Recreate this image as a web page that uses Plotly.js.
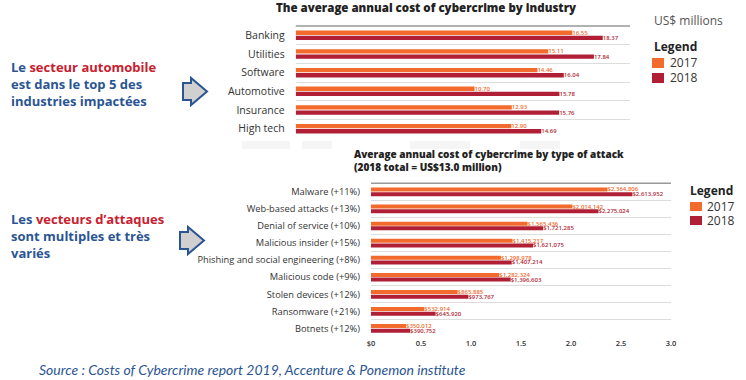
<!DOCTYPE html>
<html><head><meta charset="utf-8">
<script src="https://cdn.plot.ly/plotly-3.0.1.min.js"></script>
<style>html,body{margin:0;padding:0;background:#fff}#chart{width:746px;height:380px}</style>
</head><body><div id="chart"></div>
<script>
// ---- data ----
const industries = ['Banking', 'Utilities', 'Software', 'Automotive', 'Insurance', 'High tech'];
const industry2017 = [16.55, 15.11, 14.46, 10.70, 12.93, 12.90];
const industry2018 = [18.37, 17.84, 16.04, 15.78, 15.76, 14.69];

const attacks = ['Malware (+11%)', 'Web-based attacks (+13%)', 'Denial of service (+10%)',
  'Malicious insider (+15%)', 'Phishing and social engineering (+8%)', 'Malicious code (+9%)',
  'Stolen devices (+12%)', 'Ransomware (+21%)', 'Botnets (+12%)'];
const attack2017 = [2364806, 2014142, 1565436, 1415217, 1298978, 1282324, 865885, 532914, 350012];
const attack2018 = [2613952, 2275024, 1721285, 1621075, 1407214, 1396603, 973767, 645920, 390752];

const attackTickVals = [0, 0.5, 1, 1.5, 2, 2.5, 3];
const attackTickText = ['$0', '0.5', '1.0', '1.5', '2.0', '2.5', '3.0'];
const years = ['2017', '2018'];

// ---- style ----
const ORANGE = '#f26a2c', RED = '#b01f35';
const BLUE = '#2a5592', TXTRED = '#c8202f';
const W = 746, H = 380;
const px = x => x / W, py = y => 1 - y / H;
const FONT = 'Open Sans, sans-serif';

const fmtMoney = v => '$' + v.toLocaleString('en-US');
const toMillions = arr => arr.map(v => v / 1e6);

const barCommon = {type: 'bar', orientation: 'h', textposition: 'outside', constraintext: 'none',
  cliponaxis: false, hoverinfo: 'skip', showlegend: false};
const LBL = 6;

const data = [
  Object.assign({}, barCommon, {name: years[0], y: industries, x: industry2017, xaxis: 'x', yaxis: 'y',
    marker: {color: ORANGE}, text: industry2017.map(v => v.toFixed(2)),
    textfont: {size: LBL, color: ORANGE, family: FONT, weight: 600}}),
  Object.assign({}, barCommon, {name: years[1], y: industries, x: industry2018, xaxis: 'x', yaxis: 'y',
    marker: {color: RED}, text: industry2018.map(v => v.toFixed(2)),
    textfont: {size: LBL, color: RED, family: FONT, weight: 600}}),
  Object.assign({}, barCommon, {name: years[0], y: attacks, x: toMillions(attack2017), xaxis: 'x2', yaxis: 'y2',
    marker: {color: ORANGE}, text: attack2017.map(fmtMoney),
    textfont: {size: LBL, color: ORANGE, family: FONT, weight: 600}}),
  Object.assign({}, barCommon, {name: years[1], y: attacks, x: toMillions(attack2018), xaxis: 'x2', yaxis: 'y2',
    marker: {color: RED}, text: attack2018.map(fmtMoney),
    textfont: {size: LBL, color: RED, family: FONT, weight: 600}})
];

function arrowPath(dx, dy) {
  const pts = [[183,83],[191,83],[191,78],[207,91.5],[191,105],[191,100],[183,100]];
  return 'M' + pts.map(p => px(p[0] + dx) + ',' + py(p[1] + dy)).join(' L') + ' Z';
}

const WM = '#f5f5f5';
const shapes = [
  {type: 'line', xref: 'x domain', yref: 'y domain', x0: 0, x1: 1, y0: 1, y1: 1, line: {color: '#999', width: 1.5}},
  {type: 'line', xref: 'x2 domain', yref: 'y2 domain', x0: 0, x1: 1, y0: 1, y1: 1, line: {color: '#999', width: 1.5}},
  // faint watermark fragments under the top chart
  {type: 'rect', xref: 'paper', yref: 'paper', x0: px(242), x1: px(290), y0: py(141), y1: py(149), fillcolor: WM, line: {width: 0}, layer: 'below'},
  {type: 'rect', xref: 'paper', yref: 'paper', x0: px(302), x1: px(332), y0: py(141), y1: py(149), fillcolor: WM, line: {width: 0}, layer: 'below'},
  {type: 'rect', xref: 'paper', yref: 'paper', x0: px(410), x1: px(470), y0: py(141), y1: py(149), fillcolor: WM, line: {width: 0}, layer: 'below'},
  {type: 'rect', xref: 'paper', yref: 'paper', x0: px(520), x1: px(560), y0: py(141), y1: py(149), fillcolor: WM, line: {width: 0}, layer: 'below'},
  // legend swatches
  {type: 'rect', xref: 'paper', yref: 'paper', x0: px(652), x1: px(664), y0: py(58), y1: py(68), fillcolor: ORANGE, line: {width: 0}},
  {type: 'rect', xref: 'paper', yref: 'paper', x0: px(652), x1: px(664), y0: py(73), y1: py(83), fillcolor: RED, line: {width: 0}},
  {type: 'rect', xref: 'paper', yref: 'paper', x0: px(690), x1: px(702), y0: py(202), y1: py(211), fillcolor: ORANGE, line: {width: 0}},
  {type: 'rect', xref: 'paper', yref: 'paper', x0: px(690), x1: px(702), y0: py(216), y1: py(225), fillcolor: RED, line: {width: 0}},
  // arrows
  {type: 'path', xref: 'paper', yref: 'paper', path: arrowPath(0, 0), fillcolor: '#d0d0d0', line: {color: BLUE, width: 2}},
  {type: 'path', xref: 'paper', yref: 'paper', path: arrowPath(-3, 149), fillcolor: '#d0d0d0', line: {color: BLUE, width: 2}}
];

const ann = (x, y, text, opts) => Object.assign({xref: 'paper', yref: 'paper', x: px(x), y: py(y), text: text,
  showarrow: false, xanchor: 'left', yanchor: 'middle', align: 'left'}, opts || {});

const sideFont = {family: 'Open Sans, sans-serif', size: 13, color: BLUE, weight: 700};
const red = s => '<span style="color:' + TXTRED + '">' + s + '</span>';

const annotations = [
  ann(351.5, 154, 'Average annual cost of cybercrime by type of attack',
    {font: {family: FONT, size: 10, color: '#222', weight: 800}}),
  ann(351.5, 166.5, '(2018 total = US$13.0 million)',
    {font: {family: FONT, size: 10, color: '#222', weight: 800}}),
  ann(652, 21, 'US$ millions', {font: {family: FONT, size: 12, color: '#555'}}),
  ann(652, 46, '<b>Legend</b>', {font: {family: FONT, size: 12, color: '#222', weight: 800}}),
  ann(668, 63, years[0], {font: {family: FONT, size: 12, color: '#333'}}),
  ann(668, 78, years[1], {font: {family: FONT, size: 12, color: '#333'}}),
  ann(688, 190, '<b>Legend</b>', {font: {family: FONT, size: 12, color: '#222', weight: 800}}),
  ann(705, 206.5, years[0], {font: {family: FONT, size: 12, color: '#333'}}),
  ann(705, 220.5, years[1], {font: {family: FONT, size: 12, color: '#333'}}),
  ann(9, 67, 'Le ' + red('secteur automobile'), {font: sideFont}),
  ann(9, 84, 'est dans le top 5 des', {font: sideFont}),
  ann(9, 101, 'industries impactées', {font: sideFont}),
  ann(9, 219, 'Les ' + red('vecteurs d’attaques'), {font: sideFont}),
  ann(9, 236, 'sont multiples et très', {font: sideFont}),
  ann(9, 253, 'variés', {font: sideFont}),
  ann(37, 369, '<i>Source : Costs of Cybercrime report 2019, Accenture &amp; Ponemon institute</i>',
    {font: {family: 'Lato, sans-serif', size: 14, color: BLUE}})
];

const layout = {
  width: W, height: H, margin: {l: 0, r: 0, t: 0, b: 0},
  paper_bgcolor: '#fff', plot_bgcolor: '#fff',
  font: {family: FONT, color: '#333'},
  barmode: 'group', bargap: 0.45, bargroupgap: 0.15,
  title: {text: 'The average annual cost of cybercrime by industry', x: px(426), y: py(8),
    xanchor: 'center', yanchor: 'middle', xref: 'paper', yref: 'paper',
    font: {family: FONT, size: 11.5, color: '#222', weight: 800}},
  xaxis: {domain: [px(295.7), px(630)], range: [0, 20], anchor: 'y', showticklabels: false,
    showgrid: false, zeroline: false, fixedrange: true},
  yaxis: {domain: [py(138), py(26)], type: 'category', autorange: 'reversed', anchor: 'x',
    tickson: 'boundaries', showgrid: true, gridcolor: '#dddddd', gridwidth: 1, ticks: '',
    ticklabelstandoff: 10, tickfont: {size: 10.5, color: '#333'}, zeroline: false},
  xaxis2: {domain: [px(371), px(671)], range: [0, 3], anchor: 'y2', tickmode: 'array',
    tickvals: attackTickVals, ticktext: attackTickText, tickfont: {size: 7.5, color: '#333', weight: 600},
    showgrid: false, zeroline: false, ticks: ''},
  yaxis2: {domain: [py(337), py(183.3)], type: 'category', autorange: 'reversed', anchor: 'x2',
    tickson: 'boundaries', showgrid: true, gridcolor: '#dddddd', gridwidth: 1, ticks: '',
    ticklabelstandoff: 10, tickfont: {size: 9.3, color: '#333'}, zeroline: false},
  shapes: shapes, annotations: annotations, showlegend: false
};

Plotly.newPlot('chart', data, layout, {staticPlot: true, displayModeBar: false});
</script>
</body></html>
